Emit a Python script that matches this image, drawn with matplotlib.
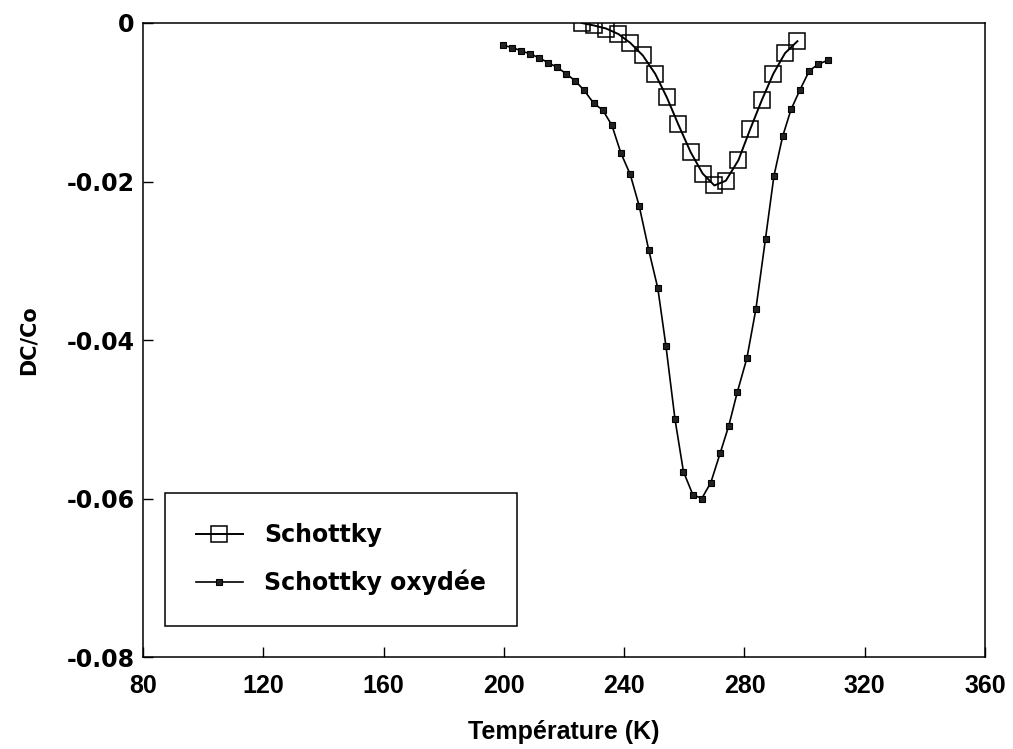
import matplotlib
matplotlib.use("Agg")
import matplotlib.pyplot as plt
from matplotlib.ticker import FixedLocator, FuncFormatter

# Schottky (open squares)
t_schottky = [225.9, 229.8, 234.0, 238.1, 242.0, 246.2, 250.3, 254.2, 258.0, 262.1,
              266.1, 270.0, 273.8, 278.0, 281.9, 285.8, 289.6, 293.5, 297.6]
dc_schottky = [-0.0000, -0.0003, -0.0007, -0.0014, -0.0025, -0.0041, -0.0064, -0.0094, -0.0128, -0.0163,
               -0.0190, -0.0205, -0.0199, -0.0173, -0.0134, -0.0097, -0.0064, -0.0038, -0.0023]

# Schottky oxydee (small filled squares)
t_oxyde = [199.7, 202.7, 205.7, 208.7, 211.7, 214.7, 217.7, 220.7, 223.7, 226.7,
           229.8, 232.9, 235.9, 238.9, 242.0, 245.0, 248.2, 251.2, 253.9, 256.9,
           259.7, 262.8, 265.8, 268.8, 271.9, 274.8, 277.6, 280.8, 283.8, 287.0,
           289.8, 292.7, 295.5, 298.5, 301.6, 304.6, 307.7]
dc_oxyde = [-0.0028, -0.0031, -0.0035, -0.0039, -0.0044, -0.0050, -0.0056, -0.0064, -0.0073, -0.0085,
            -0.0101, -0.0110, -0.0129, -0.0164, -0.0191, -0.0231, -0.0287, -0.0335, -0.0408, -0.0500,
            -0.0566, -0.0595, -0.0600, -0.0580, -0.0543, -0.0508, -0.0466, -0.0423, -0.0361, -0.0272,
            -0.0193, -0.0143, -0.0109, -0.0084, -0.0060, -0.0052, -0.0047]

x_ticks = [80, 120, 160, 200, 240, 280, 320, 360]
y_ticks = [0, -0.02, -0.04, -0.06, -0.08]

WIDE = ['DejaVu Sans']
NARROW = ['Liberation Sans', 'DejaVu Sans']

fig = plt.figure(figsize=(10.13, 7.49), dpi=100)
ax = fig.add_axes([0.1412, 0.1228, 0.8312, 0.8465])

ax.plot(t_schottky, dc_schottky, '-', color='black', linewidth=1.4,
        marker='s', markersize=11, markerfacecolor='none', markeredgecolor='black',
        markeredgewidth=1.1, label='Schottky')
ax.plot(t_oxyde, dc_oxyde, '-', color='black', linewidth=1.2,
        marker='s', markersize=4, markerfacecolor='#222222', markeredgecolor='black',
        markeredgewidth=0.8, label='Schottky oxydée')

ax.set_xlim(80, 360)
ax.set_ylim(-0.08, 0)
ax.xaxis.set_major_locator(FixedLocator(x_ticks))
ax.yaxis.set_major_locator(FixedLocator(y_ticks))
ax.yaxis.set_major_formatter(FuncFormatter(lambda v, p: '0' if abs(v) < 1e-9 else f'{v:.2f}'))
ax.tick_params(direction='in', length=7, width=1, top=False, right=False)
ax.tick_params(axis='x', pad=12)
ax.tick_params(axis='y', pad=6)

for lab in ax.get_xticklabels():
    lab.set_family(NARROW)
    lab.set_fontweight('bold')
    lab.set_fontsize(18)
for lab in ax.get_yticklabels():
    lab.set_family(WIDE)
    lab.set_fontweight('bold')
    lab.set_fontsize(17)

for s in ax.spines.values():
    s.set_linewidth(1.1)

ax.set_xlabel('Température (K)', family=NARROW, fontweight='bold', fontsize=18, labelpad=16)
ax.set_ylabel('DC/Co', family=WIDE, fontweight='bold', fontsize=15, labelpad=20)

leg = ax.legend(loc='lower left', bbox_to_anchor=(0.026, 0.049), borderaxespad=0,
                frameon=True, fancybox=False, edgecolor='black', framealpha=1,
                prop={'family': WIDE, 'weight': 'bold', 'size': 17},
                handlelength=2.0, handletextpad=0.9, borderpad=1.3, labelspacing=0.95)
leg.get_frame().set_linewidth(1.1)

fig.savefig('out.png', dpi=100)
